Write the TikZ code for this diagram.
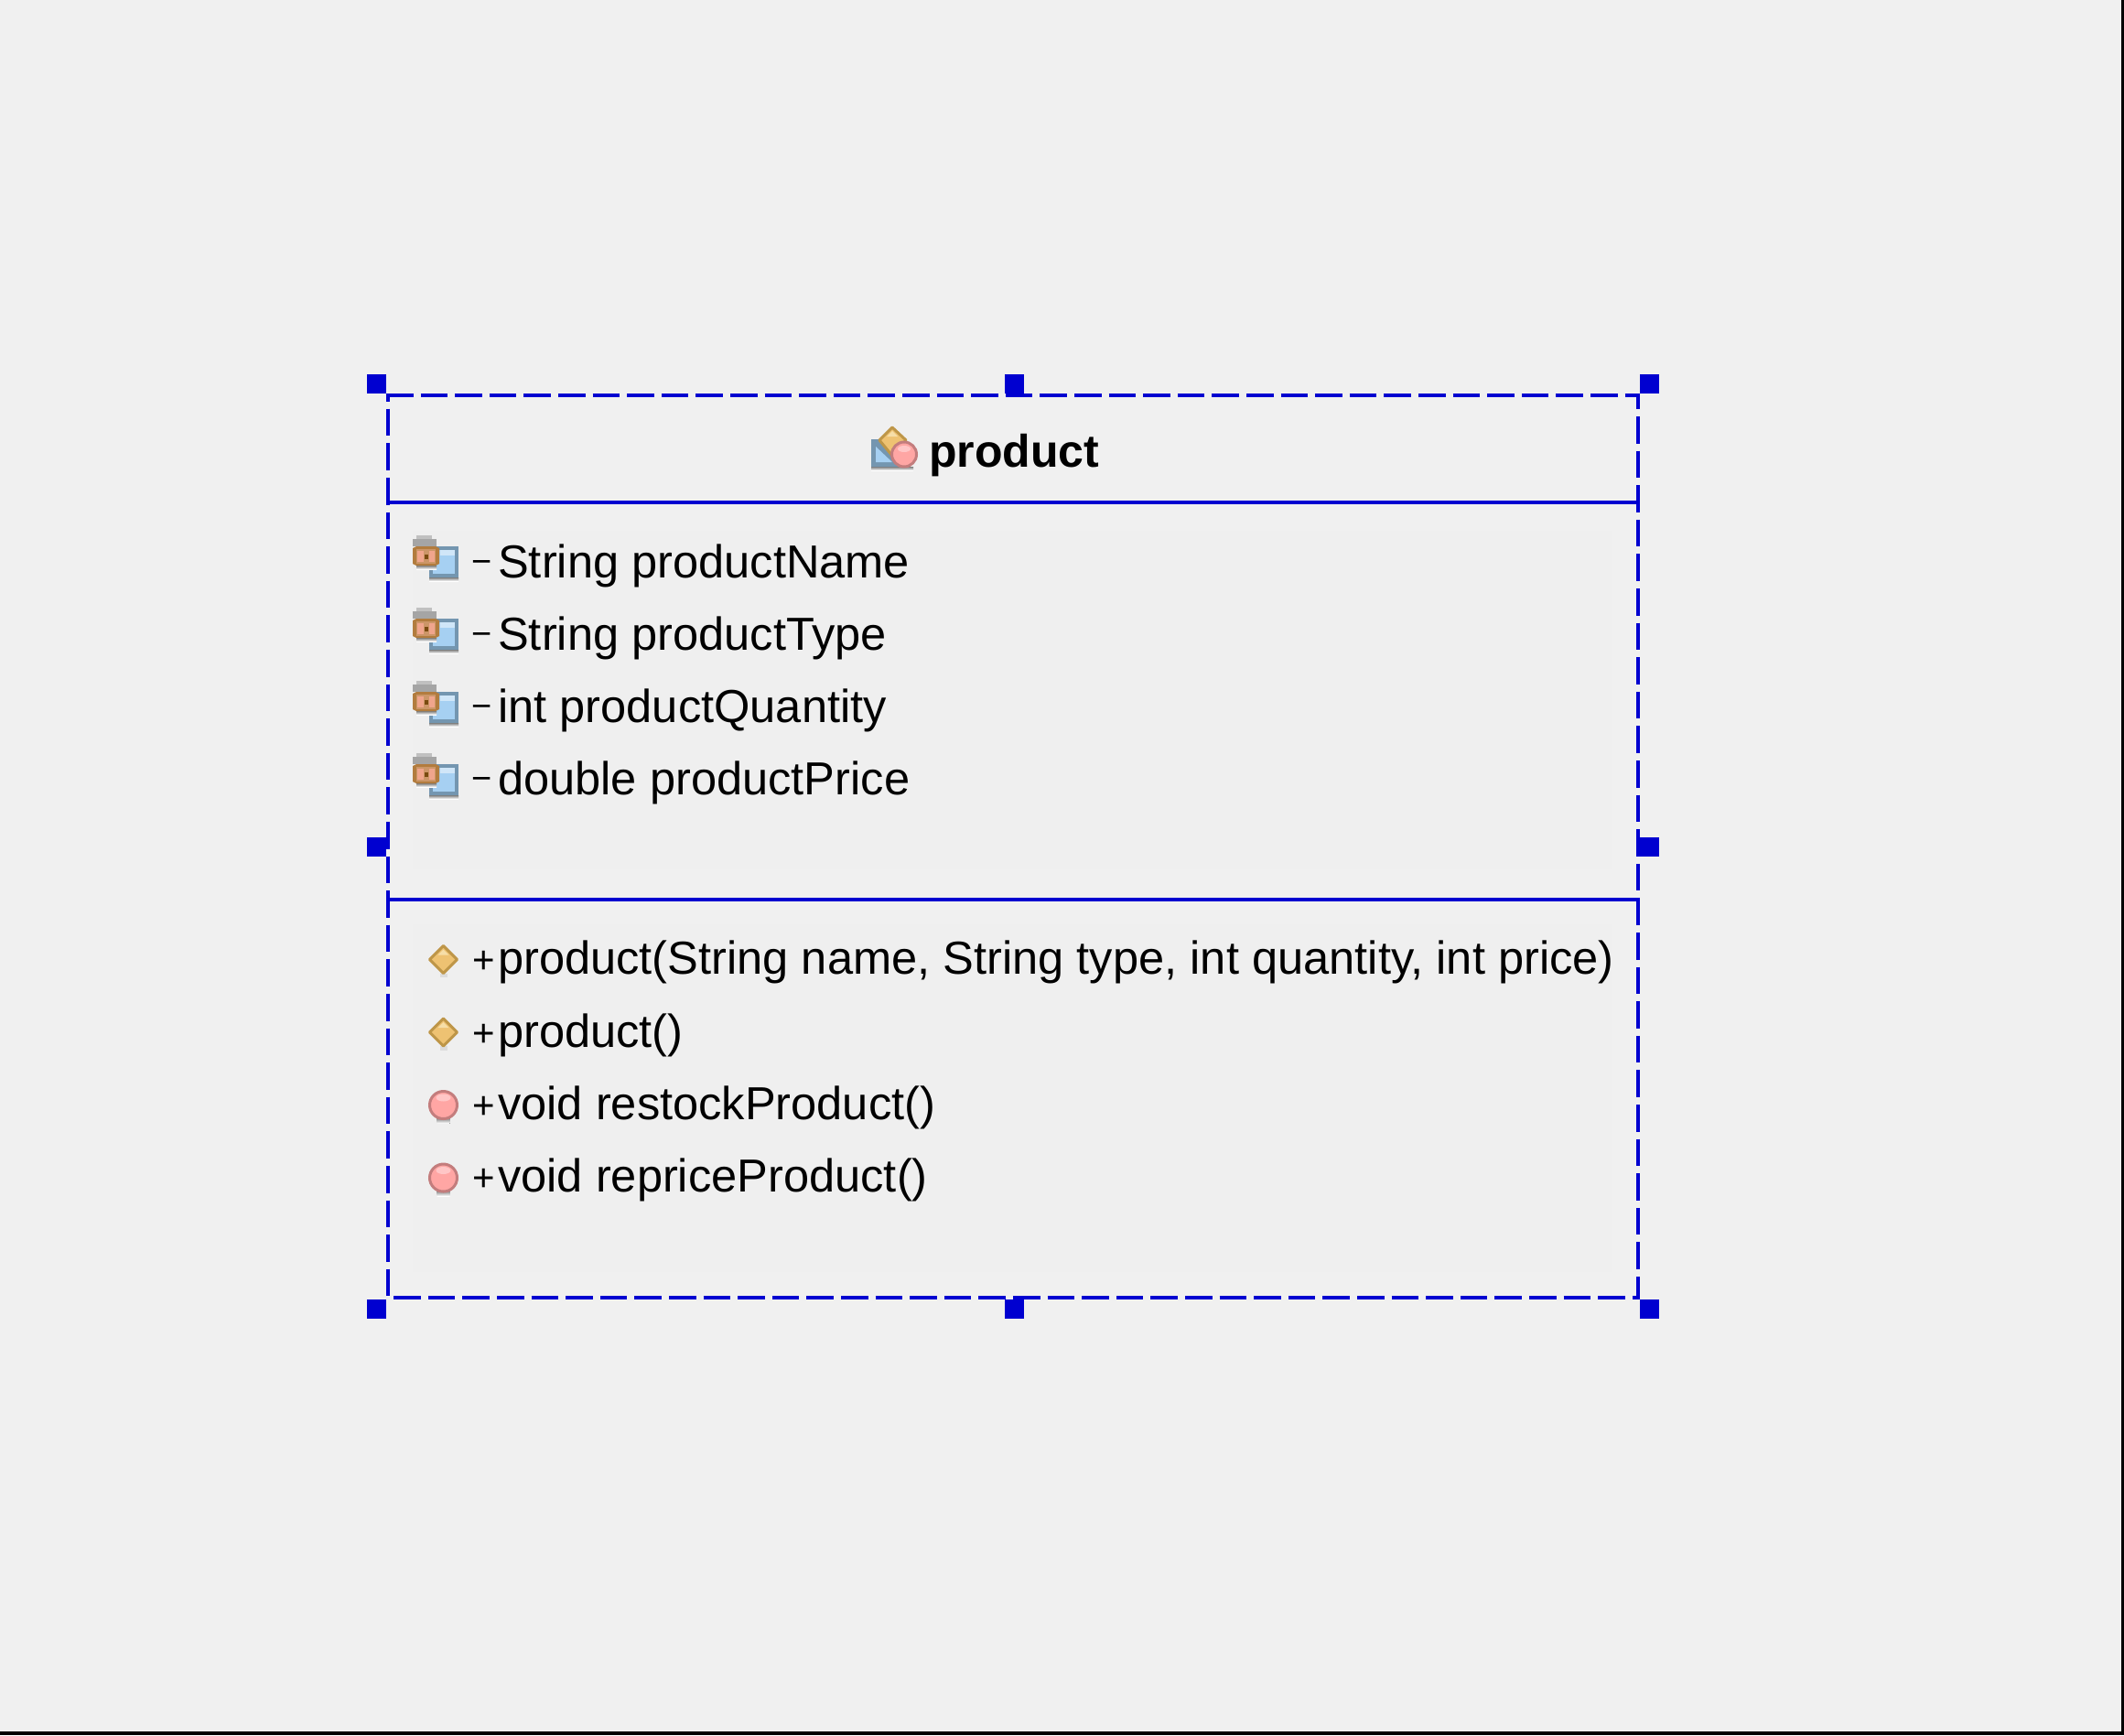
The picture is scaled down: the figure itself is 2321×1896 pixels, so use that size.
\documentclass[tikz,border=0pt]{standalone}
\usepackage{fontspec}
\setmainfont{Liberation Sans}
\usetikzlibrary{positioning}
\definecolor{bgGray}{RGB}{240,240,240}
\definecolor{rowGray}{RGB}{239,239,239}
\definecolor{umlBlue}{RGB}{0,0,208}
\definecolor{steel}{RGB}{116,150,176}
\definecolor{sky}{RGB}{166,208,242}
\definecolor{skyLight}{RGB}{208,230,248}
\definecolor{shade}{RGB}{196,196,196}
\definecolor{lockGray}{RGB}{165,165,165}
\definecolor{lockBrown}{RGB}{178,124,62}
\definecolor{lockPink}{RGB}{240,165,140}
\definecolor{lockTan}{RGB}{204,150,104}
\definecolor{lockDark}{RGB}{122,74,16}
\definecolor{gold}{RGB}{238,194,114}
\definecolor{goldDark}{RGB}{190,150,72}
\definecolor{goldLight}{RGB}{246,222,168}
\definecolor{rose}{RGB}{255,166,164}
\definecolor{roseDark}{RGB}{195,125,125}
\definecolor{roseLight}{RGB}{255,198,198}
\newcommand*{\fieldIcon}[2]{\begin{scope}[shift={(#1,#2)}]
	\fill[shade] (24,51) rectangle (56,55);
	\fill[steel] (24,17) rectangle (56,51);
	\fill[sky] (28,21) rectangle (52,47);
	\fill[skyLight] (36,21) rectangle (52,27);
	\fill[lockGray!70] (10,5) rectangle (27,9);
	\fill[lockGray] (6,9) rectangle (32,17);
	\fill[shade] (10,38) rectangle (32,42);
	\fill[lockBrown] (6,19) -- (10,17) -- (31,17) -- (35,19) -- (35,36) -- (31,38) -- (10,38) -- (6,36) -- cycle;
	\fill[lockTan] (10,20) rectangle (31,36);
	\fill[lockPink] (11,22) rectangle (18,34);
	\fill[lockPink] (24,22) rectangle (30,34);
	\fill[lockDark] (19,26) rectangle (23,31);
\end{scope}}
\newcommand*{\ctorIcon}[2]{\begin{scope}[shift={(#1,#2)}]
	\fill[shade!60] (-4,15) rectangle (4,19.5);
	\draw[goldDark,line width=3pt,fill=gold,line join=round] (0,-15) -- (15,0) -- (0,15) -- (-15,0) -- cycle;
	\fill[goldLight] (0,-11) -- (6,-5) -- (-6,-5) -- cycle;
\end{scope}}
\newcommand*{\methodIcon}[2]{\begin{scope}[shift={(#1,#2)}]
	\fill[shade] (-7,14) rectangle (7,20);
	\draw[roseDark,line width=3pt,fill=rose] (0,0) circle[radius=15];
	\fill[roseLight] (0,-8) ellipse[x radius=8,y radius=4];
\end{scope}}
\begin{document}
\begin{tikzpicture}[x=1pt,y=-1pt,
	handle/.style={rectangle,fill=umlBlue,inner sep=0pt,minimum size=21pt},
	border/.style={umlBlue,line width=4pt,dash pattern=on 29.6pt off 8pt},
	divider/.style={umlBlue,line width=4pt},
	member/.style={inner sep=0pt,anchor=base west,font=\fontsize{50.6}{60}\selectfont},
	sign/.style={inner sep=0pt,anchor=base,font=\fontsize{38}{44}\selectfont}]
	\fill[bgGray] (0,0) rectangle (2321,1896);
	\useasboundingbox (0,0) rectangle (2321,1896);
	\fill[black] (0,1892) rectangle (2321,1896);
	\fill[black] (2318,0) rectangle (2321,1896);
	\fill[rowGray] (451,580) rectangle (1761,950);
	\fill[rowGray] (451,1010) rectangle (1761,1390);
	% outline
	\coordinate (topL) at (422,432);
	\coordinate (topR) at (1792,432);
	\coordinate (rightT) at (1790,430);
	\coordinate (rightB) at (1790,1420);
	\coordinate (botL) at (430.2,1418);
	\coordinate (botR) at (1792,1418);
	\coordinate (leftT) at (424,430);
	\coordinate (leftB) at (424,1420);
	\draw[border] (topL) -- (topR);
	\draw[border,dash phase=12.6pt] (rightT) -- (rightB);
	\draw[border] (botL) -- (botR);
	\draw[border,dash phase=20.9pt] (leftT) -- (leftB);
	\coordinate (headL) at (424,549);
	\coordinate (headR) at (1790,549);
	\coordinate (sepL) at (424,983);
	\coordinate (sepR) at (1790,983);
	\draw[divider] (headL) -- (headR);
	\draw[divider] (sepL) -- (sepR);
	\foreach \n/\x/\y in {hNW/411.5/419.5,hN/1108.5/419.5,hNE/1802.5/419.5,hW/411.5/925,hE/1802.5/925,hSW/411.5/1430.5,hS/1108.5/1430.5,hSE/1802.5/1430.5}
		\node[handle] (\n) at (\x,\y){};
	% class icon
	\begin{scope}[shift={(945,460)}]
		\fill[shade] (7,50) rectangle (53,54);
		\fill[steel] (7,20) -- (15,20) -- (36,45) -- (36,50) -- (7,50) -- cycle;
		\fill[sky] (12,28) -- (30,45) -- (12,45) -- cycle;
		\draw[goldDark,line width=3pt,fill=gold,line join=round] (30,7) -- (45,21) -- (30,38) -- (16,21) -- cycle;
		\fill[goldLight] (30,11) -- (36,17) -- (24,17) -- cycle;
		\draw[roseDark,line width=3pt,fill=rose] (43,36.5) circle[radius=13.5];
		\fill[roseLight] (43,30.5) ellipse[x radius=7,y radius=3.5];
	\end{scope}
	\node[inner sep=0pt,anchor=base west,font=\fontsize{50}{60}\selectfont\bfseries] (className) at (1015,510) {product};
	% attributes
	\foreach \y in {580,659,739,818} \fieldIcon{445}{\y};
	\foreach \n/\y/\t in {attrName/631/String productName,attrType/710/String productType,attrQty/789/int productQuantity,attrPrice/868/double productPrice}{
		\node[sign] (\n Sign) at (526.5,\y-4.5) {−};
		\node[member] (\n) at (544,\y) {\t};
	}
	% methods
	\ctorIcon{484.5}{1048.5}
	\ctorIcon{484.5}{1128}
	\methodIcon{484.5}{1207.5}
	\methodIcon{484.5}{1287}
	\foreach \n/\y/\t in {ctorFull/1064/{product(String name, String type, int quantity, int price)},ctorEmpty/1144/product(),opRestock/1223/void restockProduct(),opReprice/1302/void repriceProduct()}{
		\node[sign,font=\fontsize{42}{50}\selectfont] (\n Sign) at (529,\y-1) {+};
		\node[member] (\n) at (544,\y) {\t};
	}
\end{tikzpicture}
\end{document}
